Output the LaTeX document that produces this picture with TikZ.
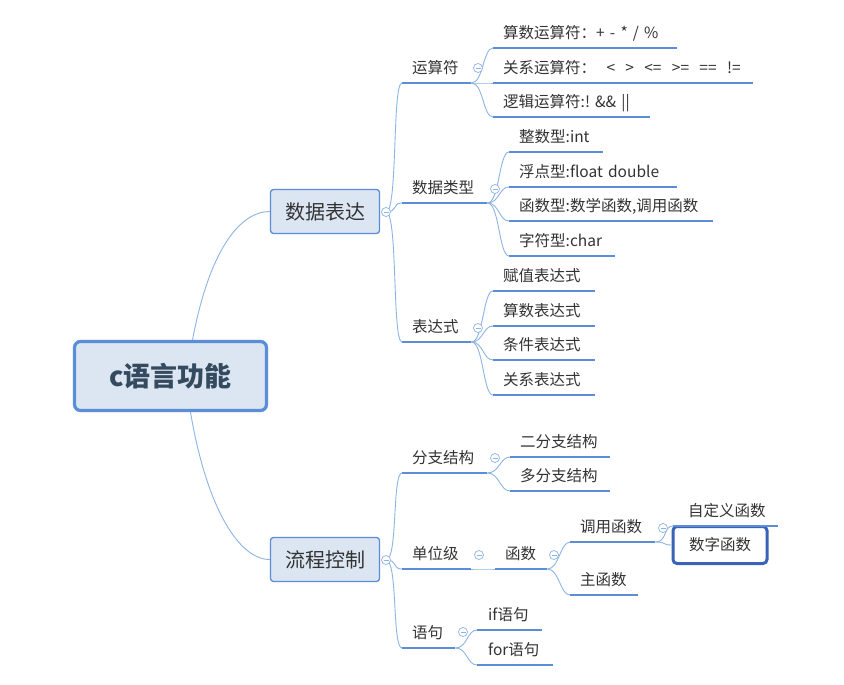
\documentclass[tikz,border=0pt]{standalone}
\usepackage{fontspec}
\setmainfont{Noto Sans CJK SC}
\definecolor{lineblue}{HTML}{5B8ED6}
\definecolor{linkblue}{HTML}{8DB4E2}
\definecolor{boxfill}{HTML}{DCE6F2}
\definecolor{selblue}{HTML}{3A63B5}
\definecolor{txtgray}{HTML}{333333}
\definecolor{rootgray}{HTML}{344A5E}
\tikzset{
  rootbox/.style={draw=lineblue, line width=3.2pt, fill=boxfill, rounded corners=6pt,
    minimum width=192pt, minimum height=69pt, font=\bfseries\fontsize{27}{30}\selectfont, text=rootgray},
  branch/.style={draw=lineblue, line width=1.3pt, fill=boxfill, rounded corners=3pt,
    minimum width=109pt, minimum height=44pt, font=\fontsize{20}{24}\selectfont, text=txtgray},
  leaf/.style={anchor=south west, inner xsep=10pt, inner ysep=6pt, text height=12pt, text depth=3pt,
    align=left, font=\fontsize{15.5}{18}\selectfont, text=txtgray},
  selbox/.style={draw=selblue, line width=3pt, fill=white, rounded corners=4pt,
    minimum width=94pt, minimum height=37pt, font=\fontsize{15.5}{18}\selectfont, text=txtgray},
  uline/.style={draw=lineblue, line width=2.4pt},
  link/.style={draw=linkblue, line width=0.9pt,
    to path={.. controls +(12,0) and +(-10,0) .. (\tikztotarget)}},
  trunk/.style={draw=linkblue, line width=0.9pt},
  fold/.style={circle, draw=linkblue, fill=white, line width=0.7pt, minimum size=9pt, inner sep=0pt,
    path picture={\draw[linkblue, line width=0.7pt]
      ([xshift=-2.5pt]path picture bounding box.center) -- ([xshift=2.5pt]path picture bounding box.center);}},
}
\begin{document}
\begin{tikzpicture}[x=1pt, y=-1pt]
  \fill[white] (0,0) rectangle (844,685);
  \useasboundingbox (0,0) rectangle (844,685);

  \node[rootbox] (root) at (170.5,376) {c语言功能};
  \node[branch] (sjbd) at (325,211.5) {数据表达};
  \node[branch] (lckz) at (325,559.5) {流程控制};
  \coordinate (f1) at (386,212);
  \coordinate (f2) at (386,560);

  % 数据表达
  \node[leaf, text width=49pt] (ysf) at (402,83) {运算符};
  \node[leaf, text width=65pt] (sjlx) at (402,203) {数据类型};
  \node[leaf, text width=49pt] (bds) at (402,342) {表达式};

  \node[leaf, text width=164pt] (ysf1) at (493,48) {算数运算符：+~-~*~/~\%};
  \node[leaf, text width=240pt] (ysf2) at (493,83) {关系运算符：~~<~~>~~<=~~>=~~==~~!=};
  \node[leaf, text width=137pt] (ysf3) at (493,117) {逻辑运算符:!~\&\&~||};
  \node[leaf, text width=74pt] (lx1) at (509,152) {整数型:int};
  \node[leaf, text width=148pt] (lx2) at (509,187) {浮点型:float~double};
  \node[leaf, text width=184pt] (lx3) at (509,221) {函数型:数学函数,调用函数};
  \node[leaf, text width=86pt] (lx4) at (509,256) {字符型:char};
  \node[leaf, text width=82pt] (bds1) at (493,291) {赋值表达式};
  \node[leaf, text width=82pt] (bds2) at (493,326) {算数表达式};
  \node[leaf, text width=82pt] (bds3) at (493,360) {条件表达式};
  \node[leaf, text width=82pt] (bds4) at (493,395) {关系表达式};

  % 流程控制
  \node[leaf, text width=65pt] (fzjg) at (402,473) {分支结构};
  \node[leaf, text width=49pt] (dwj) at (402,569) {单位级};
  \node[leaf, text width=33pt] (yj) at (402,648) {语句};

  \node[leaf, text width=80pt] (fz1) at (510,457) {二分支结构};
  \node[leaf, text width=80pt] (fz2) at (510,491) {多分支结构};
  \node[leaf, text width=32pt] (hs) at (495,569) {函数};
  \node[leaf, text width=65pt] (dyhs) at (570,542) {调用函数};
  \node[leaf, text width=48pt] (zhs) at (570,595) {主函数};
  \node[leaf, text width=75pt, inner xsep=15pt] (zdy) at (673,526) {自定义函数};
  \node[selbox] (szhs) at (720,545) {数字函数};
  \node[leaf, text width=43pt, inner xsep=11pt] (ifyj) at (477,630) {if语句};
  \node[leaf, text width=54pt, inner xsep=11pt] (foryj) at (477,665) {for语句};

  \foreach \n in {ysf,sjlx,bds,ysf1,ysf2,ysf3,lx1,lx2,lx3,lx4,bds1,bds2,bds3,bds4,
                  fzjg,dwj,yj,fz1,fz2,hs,dyhs,zhs,zdy,ifyj,foryj}
    \draw[uline] (\n.south west) -- (\n.south east);

  % connectors
  \draw[trunk] ([xshift=22pt]root.north) .. controls +(17,-90) and +(-30,0) .. (sjbd.west);
  \draw[trunk] ([xshift=20pt]root.south) .. controls +(15,90) and +(-33,0) .. (lckz.west);

  \foreach \c in {ysf,sjlx,bds}
    \draw[link] (f1) to (\c.south west);
  \foreach \c in {ysf1,ysf2,ysf3}
    \draw[link] (ysf.south east) to (\c.south west);
  \foreach \c in {lx1,lx2,lx3,lx4}
    \draw[link] (sjlx.south east) to (\c.south west);
  \foreach \c in {bds1,bds2,bds3,bds4}
    \draw[link] (bds.south east) to (\c.south west);

  \foreach \c in {fzjg,dwj,yj}
    \draw[link] (f2) to (\c.south west);
  \foreach \c in {fz1,fz2}
    \draw[link] (fzjg.south east) to (\c.south west);
  \draw[link] (dwj.south east) to (hs.south west);
  \foreach \c in {dyhs,zhs}
    \draw[link] (hs.south east) to (\c.south west);
  \draw[link] (dyhs.south east) to (zdy.south west);
  \draw[link] (dyhs.south east) to (szhs.west);
  \foreach \c in {ifyj,foryj}
    \draw[link] (yj.south east) to (\c.south west);

  % fold marks
  \foreach \p in {(f1),(f2),(478,68),(495,189),(478,328),(495,458),(479,555),(554,555),(663,528),(463,632)}
    \node[fold] at \p {};
\end{tikzpicture}
\end{document}
